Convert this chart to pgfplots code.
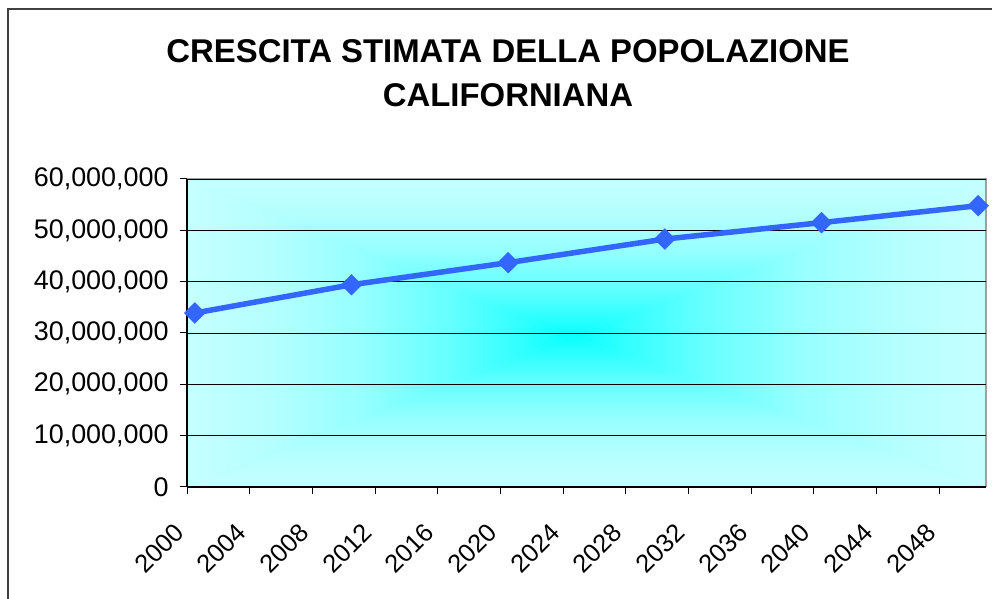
\documentclass[border=0pt]{standalone}
\usepackage{pgfplots}
\pgfplotsset{compat=1.18}
\usepackage{fontspec}
\setmainfont{Liberation Sans}
\definecolor{edgec}{HTML}{C6FFFF}
\definecolor{c1}{HTML}{B4FFFF}
\definecolor{c2}{HTML}{98FFFF}
\definecolor{c3}{HTML}{66FFFF}
\definecolor{c4}{HTML}{34FFFF}
\definecolor{cen}{HTML}{08FFFF}
\definecolor{lineblue}{HTML}{3366FF}
\definecolor{framegray}{HTML}{404040}
\definecolor{bordergray}{HTML}{A0A0A0}
\pgfdeclareverticalshading{fromcenter}{100bp}{%
  color(0bp)=(cen); color(25bp)=(cen); color(32bp)=(c4); color(41bp)=(c3);
  color(53bp)=(c2); color(64bp)=(c1); color(75bp)=(edgec); color(100bp)=(edgec)}
\pgfplotstableread{
year pop
2000 33900000
2010 39400000
2020 43700000
2030 48300000
2040 51500000
2050 54800000
}\poptable
\begin{document}
\begin{tikzpicture}[x=1bp,y=1bp]
\useasboundingbox (0,0) rectangle (992,599);
% outer chart frame
\draw[framegray, line width=1.5bp] (8,-5) -- (8,590) -- (1000,590);
% title
\node[anchor=base, font=\fontsize{33}{38}\bfseries\selectfont, inner sep=0pt] at (508,536) {CRESCITA STIMATA DELLA POPOLAZIONE};
\node[anchor=base, font=\fontsize{33}{38}\bfseries\selectfont, inner sep=0pt] at (508,492) {CALIFORNIANA};
% plot area background (rectangular gradient from centre)
\def\cx{570}\def\cy{263}
\fill[c2] (187,112) rectangle (986,420);
\shade[shading=fromcenter] (187,420) -- (986,420) -- (\cx,\cy) -- cycle;
\shade[shading=fromcenter, shading angle=180] (187,112) -- (986,112) -- (\cx,\cy) -- cycle;
\shade[shading=fromcenter, shading angle=90] (187,112) -- (187,420) -- (\cx,\cy) -- cycle;
\shade[shading=fromcenter, shading angle=270] (986,112) -- (986,420) -- (\cx,\cy) -- cycle;
\draw[bordergray, line width=1.5bp] (187,420) -- (986,420) -- (986,112);
\begin{axis}[
  at={(187bp,112bp)}, anchor=south west,
  width=799bp, height=308bp, scale only axis,
  xmin=1999.5, xmax=2050.5,
  ymin=0, ymax=60000000,
  axis x line*=bottom, axis y line*=left,
  axis line style={black, line width=1.3bp},
  xtick={1999.5,2003.5,2007.5,2011.5,2015.5,2019.5,2023.5,2027.5,2031.5,2035.5,2039.5,2043.5,2047.5},
  xticklabels={2000,2004,2008,2012,2016,2020,2024,2028,2032,2036,2040,2044,2048},
  ytick={0,10000000,20000000,30000000,40000000,50000000,60000000},
  scaled y ticks=false,
  /pgf/number format/fixed,
  /pgf/number format/1000 sep={,},
  /pgf/number format/assume math mode=true,
  xticklabel style={font=\fontsize{25.5}{30}\selectfont, inner sep=0pt, anchor=east, xshift=-8bp, yshift=-34bp, rotate=45},
  yticklabel style={font=\fontsize{27}{30}\selectfont, xshift=-8bp},
  tick align=outside, major tick length=7bp,
  tick style={black, line width=1bp},
  ymajorgrids, major grid style={black, line width=0.9bp},
  clip=false,
]
\addplot[lineblue, line width=5.5bp, mark=square*, mark size=7.4bp,
  mark options={rotate=45, solid, line width=0.3bp, fill=lineblue}] table[x=year, y=pop] {\poptable};
\end{axis}
\end{tikzpicture}
\end{document}
